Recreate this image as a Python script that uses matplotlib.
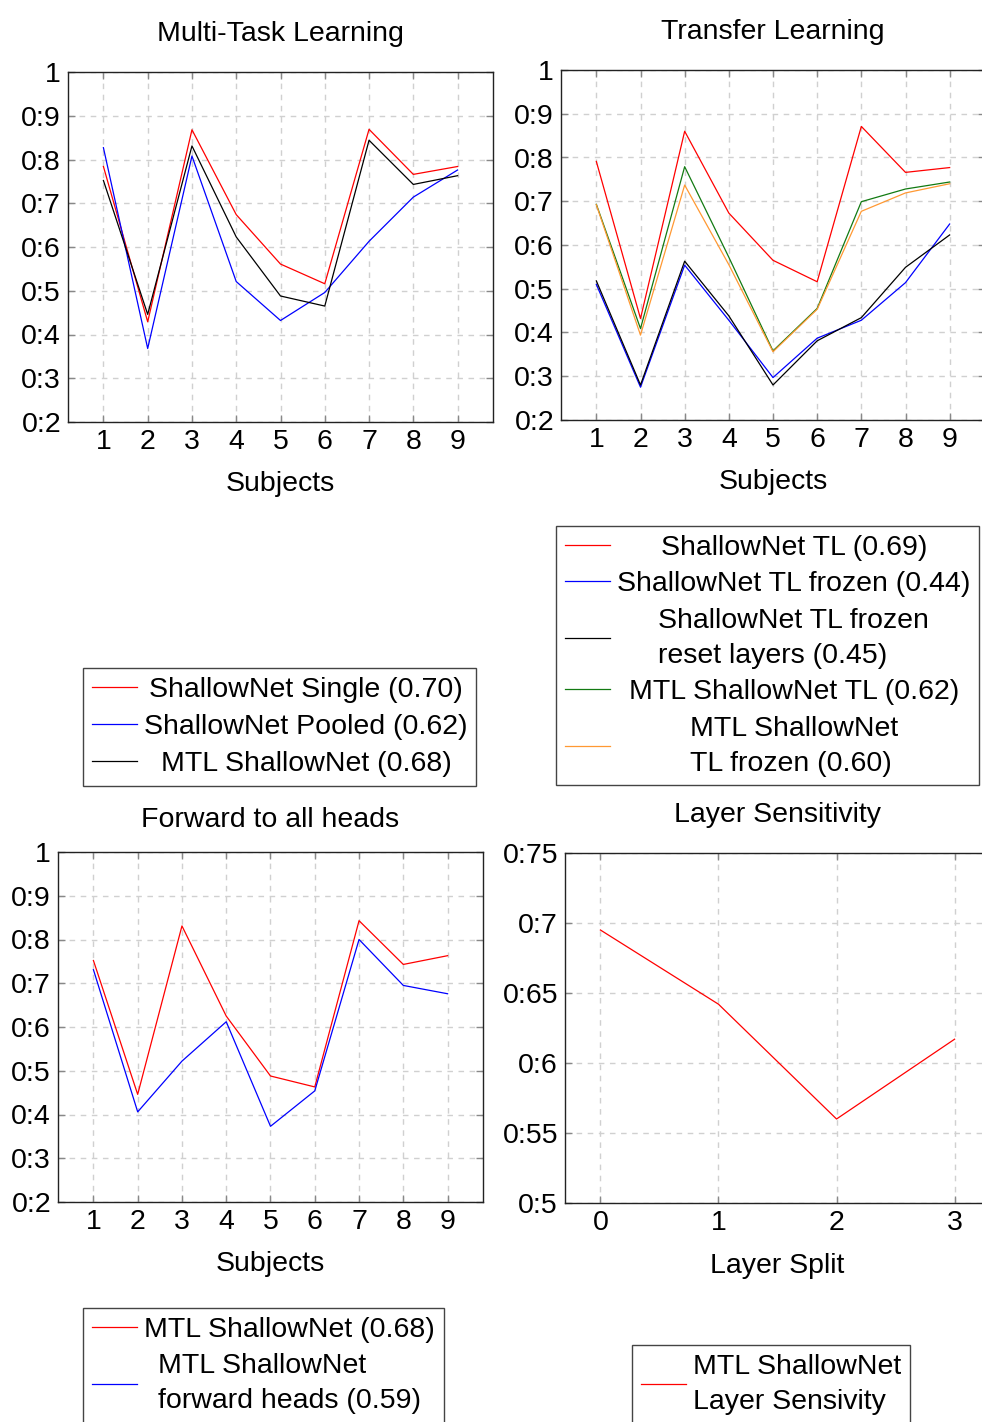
import matplotlib
matplotlib.use("Agg")
import matplotlib.pyplot as plt

plt.rcParams['font.family'] = ['Liberation Sans', 'DejaVu Sans']

W, H = 982, 1422
FS = 20.5

# ---------------- data ----------------
subjects = [1, 2, 3, 4, 5, 6, 7, 8, 9]

mtl_single = [0.784, 0.429, 0.868, 0.674, 0.561, 0.516, 0.869, 0.766, 0.784]
mtl_pooled = [0.827, 0.368, 0.808, 0.521, 0.432, 0.496, 0.613, 0.714, 0.776]
mtl_shallow = [0.752, 0.446, 0.831, 0.623, 0.488, 0.465, 0.844, 0.743, 0.763]

tl_shallow = [0.791, 0.432, 0.860, 0.673, 0.565, 0.516, 0.871, 0.766, 0.777]
tl_frozen = [0.510, 0.275, 0.554, 0.428, 0.297, 0.387, 0.428, 0.514, 0.648]
tl_frozen_reset = [0.518, 0.280, 0.563, 0.438, 0.280, 0.381, 0.434, 0.549, 0.623]
tl_mtl = [0.693, 0.409, 0.779, 0.572, 0.358, 0.455, 0.699, 0.728, 0.744]
tl_mtl_frozen = [0.692, 0.394, 0.737, 0.555, 0.356, 0.453, 0.677, 0.719, 0.740]

fw_mtl = [0.752, 0.446, 0.831, 0.625, 0.488, 0.463, 0.843, 0.743, 0.763]
fw_heads = [0.731, 0.406, 0.522, 0.612, 0.373, 0.454, 0.800, 0.695, 0.676]

layer_split = [0, 1, 2, 3]
layer_sens = [0.695, 0.642, 0.560, 0.617]

y_ticks_main = [0.2, 0.3, 0.4, 0.5, 0.6, 0.7, 0.8, 0.9, 1.0]
y_labels_main = ['0:2', '0:3', '0:4', '0:5', '0:6', '0:7', '0:8', '0:9', '1']
y_ticks_layer = [0.5, 0.55, 0.6, 0.65, 0.7, 0.75]
y_labels_layer = ['0:5', '0:55', '0:6', '0:65', '0:7', '0:75']

RED, BLUE, BLACK, GREEN, ORANGE = '#ff0000', '#0000ff', '#000000', '#127a12', '#ff9933'

fig = plt.figure(figsize=(W / 100, H / 100), dpi=100)


def add_axes(left, right, top, bottom):
    return fig.add_axes([left / W, 1 - bottom / H, (right - left) / W, (bottom - top) / H])


def style(ax, xticks, yticks, ylabels, xlim, ylim):
    ax.set_xlim(*xlim)
    ax.set_ylim(*ylim)
    ax.set_xticks(xticks)
    ax.set_xticklabels([str(v) for v in xticks])
    ax.set_yticks(yticks)
    ax.set_yticklabels(ylabels)
    ax.tick_params(direction='in', length=5, width=1, color='#888888', labelsize=FS,
                   top=True, right=True)
    ax.tick_params(axis='x', pad=5)
    ax.tick_params(axis='y', pad=5)
    ax.grid(True, color='#d0d0d0', linestyle=(0, (4, 4)), linewidth=1.0)
    ax.set_axisbelow(True)
    for s in ax.spines.values():
        s.set_color('#222222')
        s.set_linewidth(1.0)


def make_legend(handles, labels, x, y, spacing=0.4):
    leg = fig.legend(handles, labels, loc='upper left',
                     bbox_to_anchor=(x / W, 1 - y / H), bbox_transform=fig.transFigure,
                     fontsize=FS, frameon=True, fancybox=False, shadow=False,
                     framealpha=1, edgecolor='#444444', borderpad=0.3,
                     handlelength=1.6, handletextpad=0.25, labelspacing=spacing,
                     borderaxespad=0)
    leg.get_frame().set_linewidth(1.0)
    for t in leg.get_texts():
        t.set_multialignment('left')
        t.set_linespacing(1.45)
    return leg


LW = 0.9

# ---------------- panel 1 ----------------
ax1 = add_axes(68, 493, 72, 422)
l1, = ax1.plot(subjects, mtl_single, color=RED, lw=LW)
l2, = ax1.plot(subjects, mtl_pooled, color=BLUE, lw=LW)
l3, = ax1.plot(subjects, mtl_shallow, color=BLACK, lw=LW)
style(ax1, subjects, y_ticks_main, y_labels_main, (0.2, 9.8), (0.2, 1.0))
ax1.set_title('Multi-Task Learning', fontsize=FS, pad=22)
ax1.set_xlabel('Subjects', fontsize=FS, labelpad=11.5)
leg1 = make_legend([l1, l2, l3],
                   ['ShallowNet Single (0.70)', 'ShallowNet Pooled (0.62)', 'MTL ShallowNet (0.68)'],
                   83, 668, spacing=0.4)

# ---------------- panel 2 ----------------
ax2 = add_axes(561, 985, 70, 420)
m1, = ax2.plot(subjects, tl_shallow, color=RED, lw=LW)
m2, = ax2.plot(subjects, tl_frozen, color=BLUE, lw=LW)
m3, = ax2.plot(subjects, tl_frozen_reset, color=BLACK, lw=LW)
m4, = ax2.plot(subjects, tl_mtl, color=GREEN, lw=LW)
m5, = ax2.plot(subjects, tl_mtl_frozen, color=ORANGE, lw=LW)
style(ax2, subjects, y_ticks_main, y_labels_main, (0.2, 9.8), (0.2, 1.0))
ax2.set_title('Transfer Learning', fontsize=FS, pad=22)
ax2.set_xlabel('Subjects', fontsize=FS, labelpad=11.5)
leg2 = make_legend([m1, m2, m3, m4, m5],
                   ['ShallowNet TL (0.69)', 'ShallowNet TL frozen (0.44)',
                    'ShallowNet TL frozen\nreset layers (0.45)', 'MTL ShallowNet TL (0.62)',
                    'MTL ShallowNet\nTL frozen (0.60)'],
                   556, 526, spacing=0.37)

# ---------------- panel 3 ----------------
ax3 = add_axes(58, 483, 852, 1202)
n1, = ax3.plot(subjects, fw_mtl, color=RED, lw=LW)
n2, = ax3.plot(subjects, fw_heads, color=BLUE, lw=LW)
style(ax3, subjects, y_ticks_main, y_labels_main, (0.2, 9.8), (0.2, 1.0))
ax3.set_title('Forward to all heads', fontsize=FS, pad=18)
ax3.set_xlabel('Subjects', fontsize=FS, labelpad=11.5)
leg3 = make_legend([n1, n2],
                   ['MTL ShallowNet (0.68)', 'MTL ShallowNet\nforward heads (0.59)'],
                   83, 1308, spacing=0.37)

# ---------------- panel 4 ----------------
ax4 = add_axes(565, 990, 853, 1203)
k1, = ax4.plot(layer_split, layer_sens, color=RED, lw=LW)
style(ax4, layer_split, y_ticks_layer, y_labels_layer, (-0.3, 3.3), (0.5, 0.75))
ax4.set_title('Layer Sensitivity', fontsize=FS, pad=22)
ax4.set_xlabel('Layer Split', fontsize=FS, labelpad=12)
leg4 = make_legend([k1], ['MTL ShallowNet\nLayer Sensivity'], 632, 1345)

# center the label blocks within each legend column (pgfplots style)
fig.canvas.draw()
renderer = fig.canvas.get_renderer()
for leg in (leg1, leg2, leg3, leg4):
    texts = leg.get_texts()
    widths = [t.get_window_extent(renderer).width for t in texts]
    mw = max(widths)
    for t, w in zip(texts, widths):
        t.set_x((mw - w) / 2)

fig.savefig('out.png', dpi=100)
